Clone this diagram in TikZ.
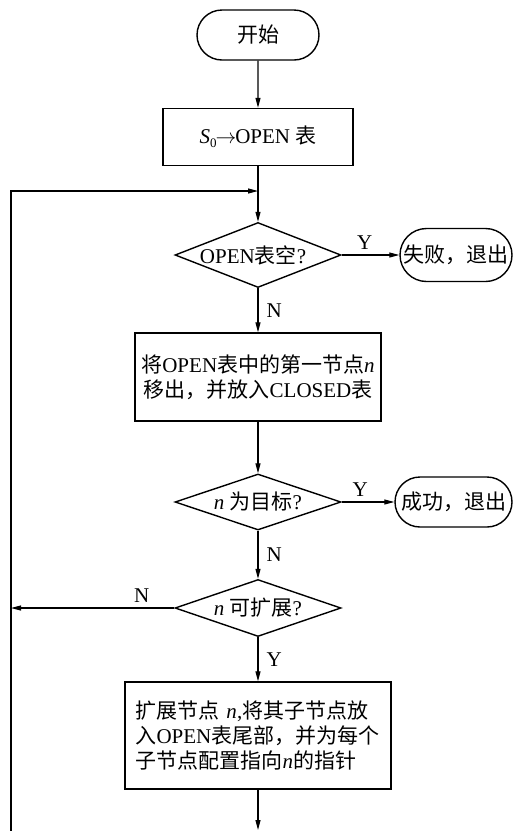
\documentclass[tikz,border=0pt]{standalone}
\usepackage{fontspec}
\setmainfont{Liberation Serif}
\newfontfamily\cjk{Noto Sans CJK SC}
\usetikzlibrary{shapes.geometric,shapes.misc,arrows.meta}
\newcommand{\zh}[1]{{\cjk #1}}
\begin{document}
\begin{tikzpicture}[x=1pt,y=-1pt,
  font=\fontsize{21}{25}\selectfont,
  box/.style={draw, rectangle, inner sep=0pt, line width=1.4pt},
  term/.style={draw, rounded rectangle, inner sep=0pt, line width=1.4pt},
  dec/.style={draw, diamond, inner sep=0pt, line width=1.4pt, minimum width=166pt},
  arr/.style={-{Triangle[length=10pt,width=5pt]}, line width=1.1pt},
  lab/.style={inner sep=0pt}]
\useasboundingbox[fill=white] (0,0) rectangle (530,831);

\node[term, minimum width=122pt, minimum height=50pt] (start) at (258,35) {\zh{开始}};
\node[box, minimum width=190pt, minimum height=57pt] (s0) at (258,137)
  {\textit{S}\raisebox{-0.4ex}{\fontsize{13}{13}\selectfont 0}\kern-1pt\ensuremath{\rightarrow}\kern-1pt OPEN \zh{表}};
\node[dec, minimum height=65pt, label={[xshift=-5pt]center:OPEN\zh{表空}?}] (d1) at (258,255) {};
\node[term, minimum width=112pt, minimum height=53pt] (fail) at (456,255) {\zh{失败，退出}};
\node[box, minimum width=246pt, minimum height=88pt, align=center] (b2) at (258,377)
  {\zh{将}OPEN\zh{表中的第一节点}\textit{n}\\\zh{移出，并放入}CLOSED\zh{表}};
\node[dec, minimum height=56pt, label={center:\textit{n} \zh{为目标}?}] (d2) at (258,502) {};
\node[term, minimum width=117pt, minimum height=50pt] (succ) at (453.5,502) {\zh{成功，退出}};
\node[dec, minimum height=57pt, label={center:\textit{n} \zh{可扩展}?}] (d3) at (258,608) {};
\node[box, minimum width=266pt, minimum height=107pt, text width=245pt, align=left] (b3) at (258,735.5)
  {\zh{扩展节点} \textit{n},\zh{将其子节点放}\\\zh{入}OPEN\zh{表尾部，并为每个}\\\zh{子节点配置指向}\textit{n}\zh{的指针}};

\coordinate (lb) at (11,831);
\coordinate (lt) at (11,191);
\coordinate (j) at (258,191);
\coordinate (lm) at (11,608);
\coordinate (e) at (258,830);

\draw[arr] (start) -- (s0);
\draw[arr] (s0) -- (d1);
\draw[arr] (lb) -- (lt) -- (j);
\draw[arr] (d1) -- node[pos=0.4, above=5pt, lab] {Y} (fail);
\draw[arr] (d1) -- node[right=8pt, lab] {N} (b2);
\draw[arr] (b2) -- (d2);
\draw[arr] (d2) -- node[pos=0.35, above=5pt, lab] {Y} (succ);
\draw[arr] (d2) -- node[right=8pt, lab] {N} (d3);
\draw[arr] (d3) -- node[pos=0.2, above=5pt, lab] {N} (lm);
\draw[arr] (d3) -- node[right=8pt, lab] {Y} (b3);
\draw[arr] (b3) -- (e);
\end{tikzpicture}
\end{document}
